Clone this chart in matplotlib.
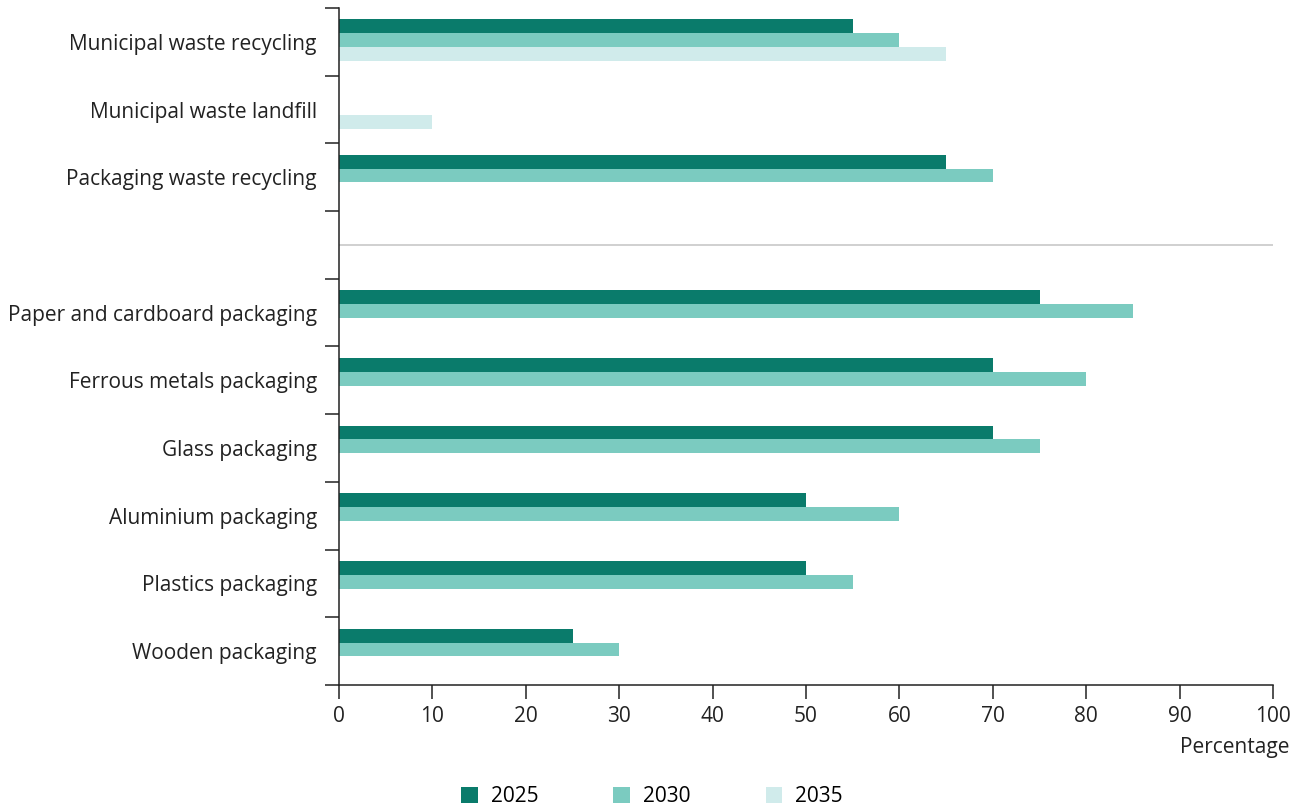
import matplotlib.pyplot as plt
import numpy as np

plt.rcParams['font.family'] = ['Open Sans', 'DejaVu Sans']

# data, None = no target for that year
categories = [
    "Municipal waste recycling",
    "Municipal waste landfill",
    "Packaging waste recycling",
    "",
    "Paper and cardboard packaging",
    "Ferrous metals packaging",
    "Glass packaging",
    "Aluminium packaging",
    "Plastics packaging",
    "Wooden packaging",
]
target_2025 = [55, None, 65, None, 75, 70, 70, 50, 50, 25]
target_2030 = [60, None, 70, None, 85, 80, 75, 60, 55, 30]
target_2035 = [65, 10, None, None, None, None, None, None, None, None]

years = ["2025", "2030", "2035"]
colors = ["#0a7b6b", "#7bcbc0", "#d0ebeb"]
fs = 15

fig = plt.figure(figsize=(13.05, 8.09), dpi=100)
ax = fig.add_axes([339 / 1305, 1 - 685 / 809, (1273 - 339) / 1305, (685 - 8) / 809])

y = np.arange(len(categories))
h = 0.205
for k, (vals, col, lab) in enumerate(zip([target_2025, target_2030, target_2035], colors, years)):
    # bars sit a touch above the slot centre in the original
    ys = [yy + (k - 1) * h - 0.025 for yy, v in zip(y, vals) if v is not None]
    vs = [v for v in vals if v is not None]
    ax.barh(ys, vs, height=h, color=col, label=lab)

# separator between the two groups
ax.plot([0, 100], [3, 3], color="#c8c8c8", lw=1.2)

ax.set_xlim(0, 100)
ax.set_ylim(len(categories) - 0.5, -0.5)
ax.set_xticks(np.arange(0, 101, 10))
ax.set_yticks(y)
ax.set_yticklabels(categories)
ax.set_yticks(np.arange(-0.5, len(categories), 1), minor=True)
ax.tick_params(axis="y", which="major", length=0, pad=16, labelsize=fs, colors="#222222")
ax.tick_params(axis="y", which="minor", length=10, width=1.1, color="#222222")
ax.tick_params(axis="x", length=10, width=1.1, pad=5, labelsize=fs, colors="#222222")

for s in ["top", "right"]:
    ax.spines[s].set_visible(False)
for s in ["left", "bottom"]:
    ax.spines[s].set_color("#222222")
    ax.spines[s].set_linewidth(1.1)

fig.text(1290 / 1305, 1 - 748 / 809, "Percentage", ha="right", va="center",
         fontsize=fs, color="#222222")

fig.legend(loc="center", bbox_to_anchor=(652 / 1305, 1 - 797 / 809), ncol=3,
           frameon=False, fontsize=fs, handlelength=0.8, handleheight=0.8,
           columnspacing=3.6, handletextpad=0.63)

fig.savefig("out.png", dpi=100)
